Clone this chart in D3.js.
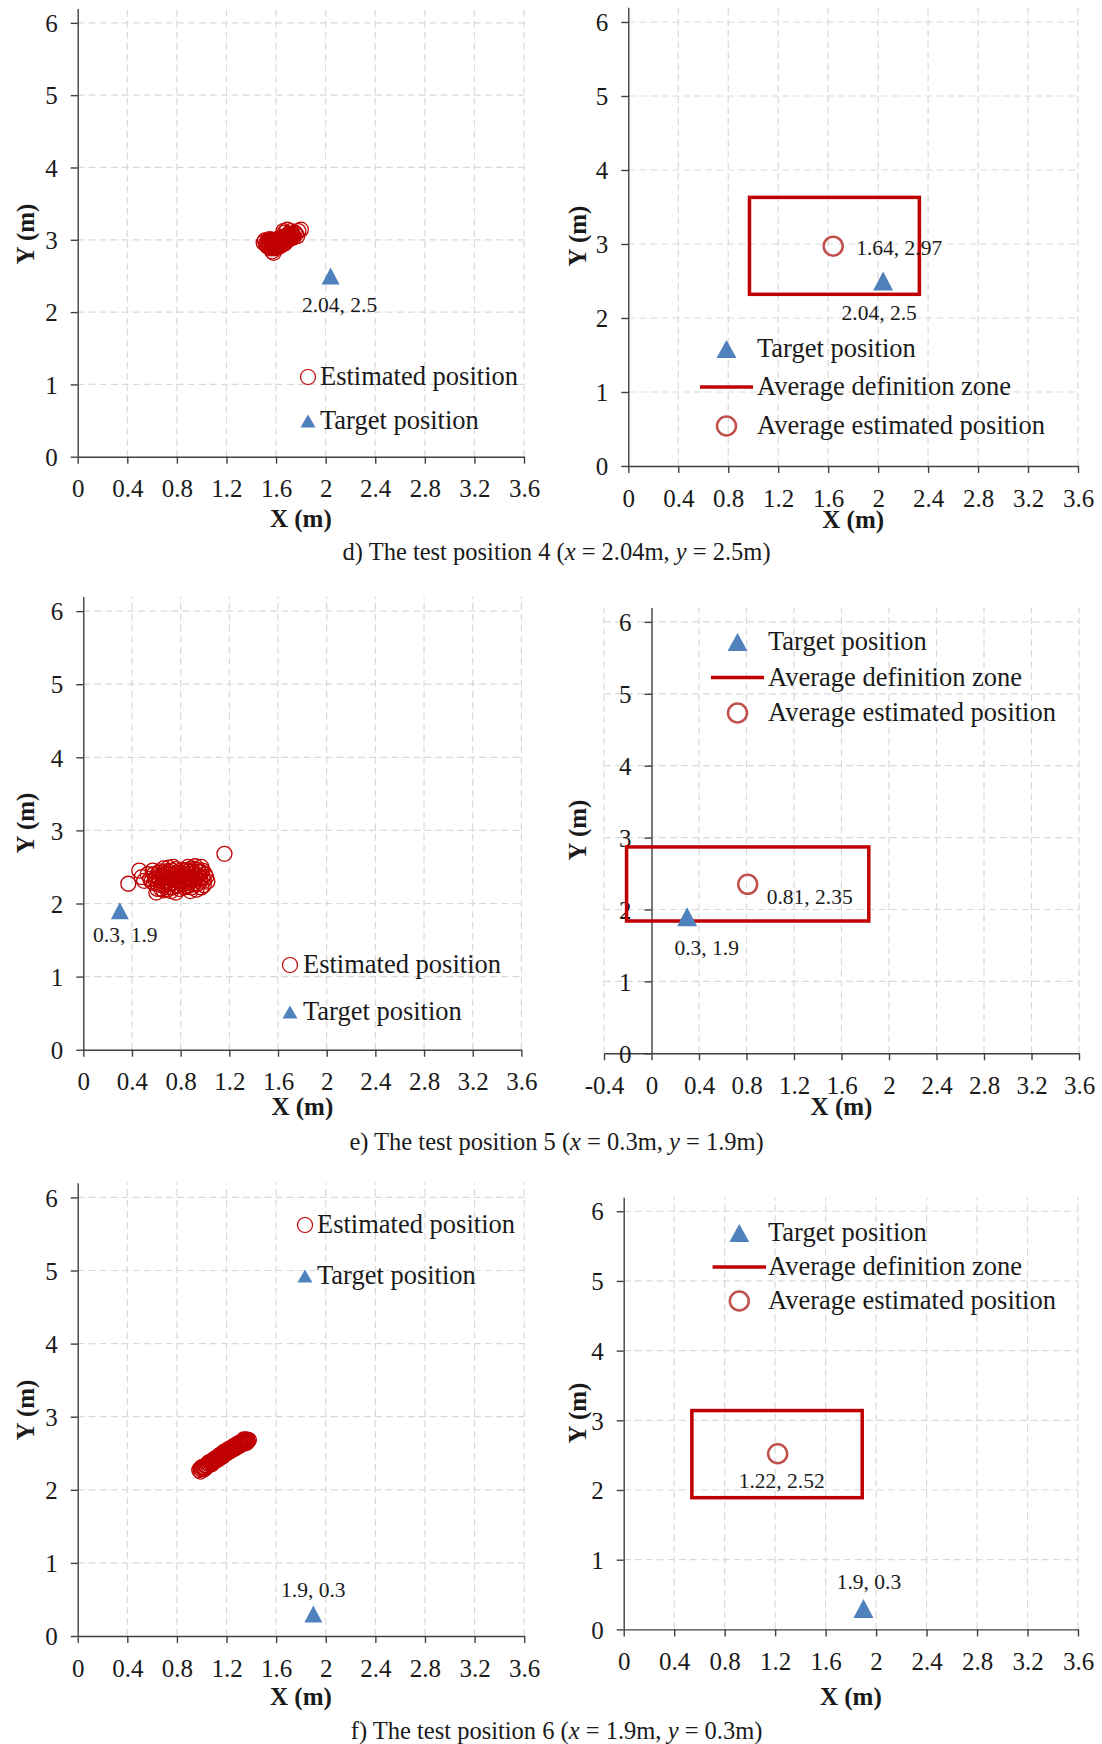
<!DOCTYPE html>
<html>
<head>
<meta charset="utf-8">
<script src="https://cdn.jsdelivr.net/npm/d3@7"></script>
<style>
  body { margin: 0; background: #fff; }
  svg text { font-family: "Liberation Serif", "Times New Roman", serif; fill: #1a1a1a; }
</style>
</head>
<body>
<svg id="chart" width="1102" height="1744"></svg>
<script>
// tick values
const xTicks = [0, 0.4, 0.8, 1.2, 1.6, 2, 2.4, 2.8, 3.2, 3.6];
const xTicksNeg = [-0.4, 0, 0.4, 0.8, 1.2, 1.6, 2, 2.4, 2.8, 3.2, 3.6];
const yTicks = [0, 1, 2, 3, 4, 5, 6];
const yMax = 6.2;

// estimated positions [x, y]
const estD = [
  [1.50, 2.96], [1.52, 2.93], [1.53, 2.98], [1.54, 2.90], [1.55, 2.95], [1.56, 2.88], [1.56, 3.00],
  [1.57, 2.84], [1.57, 2.94], [1.58, 2.91], [1.58, 2.97], [1.59, 2.88], [1.60, 2.93], [1.60, 3.00],
  [1.61, 2.96], [1.61, 2.90], [1.62, 2.98], [1.62, 2.93], [1.63, 3.02], [1.63, 2.95], [1.64, 2.92],
  [1.64, 2.99], [1.65, 3.03], [1.65, 2.96], [1.66, 3.00], [1.67, 3.10], [1.67, 2.97], [1.68, 3.02],
  [1.69, 3.14], [1.69, 2.99], [1.70, 3.05], [1.71, 3.02], [1.72, 3.08], [1.73, 3.04], [1.74, 3.06],
  [1.75, 3.10], [1.77, 3.05], [1.80, 3.14], [1.58, 2.82], [1.55, 3.01],
  [1.51, 2.99], [1.52, 2.95], [1.53, 2.91], [1.54, 2.97], [1.55, 2.92], [1.56, 2.96], [1.57, 2.99],
  [1.57, 2.89], [1.58, 2.94], [1.59, 2.96], [1.59, 2.91], [1.60, 2.89], [1.60, 2.97], [1.61, 2.93],
  [1.61, 3.01], [1.62, 2.95], [1.62, 2.90], [1.63, 2.98], [1.63, 2.92], [1.64, 2.96], [1.64, 3.02],
  [1.65, 2.94], [1.65, 3.00], [1.66, 2.97], [1.66, 3.04], [1.67, 3.01], [1.67, 2.95], [1.68, 3.05],
  [1.68, 2.99], [1.69, 3.03], [1.70, 3.00], [1.70, 3.08], [1.71, 3.05], [1.72, 3.02], [1.73, 3.07],
  [1.74, 3.03], [1.76, 3.08], [1.78, 3.12], [1.66, 3.12], [1.72, 3.12]
];
const estE = [
  [0.37, 2.27], [0.46, 2.45], [0.48, 2.36], [0.50, 2.31], [0.53, 2.40], [0.55, 2.34], [0.57, 2.45],
  [0.58, 2.28], [0.60, 2.37], [0.61, 2.20], [0.62, 2.42], [0.63, 2.31], [0.64, 2.25], [0.65, 2.38],
  [0.66, 2.18], [0.67, 2.44], [0.68, 2.30], [0.69, 2.35], [0.70, 2.22], [0.71, 2.40], [0.72, 2.28],
  [0.72, 2.17], [0.73, 2.45], [0.74, 2.33], [0.75, 2.38], [0.76, 2.25], [0.77, 2.42], [0.78, 2.30],
  [0.79, 2.20], [0.80, 2.36], [0.81, 2.46], [0.82, 2.27], [0.83, 2.40], [0.84, 2.33], [0.85, 2.23],
  [0.86, 2.44], [0.87, 2.37], [0.88, 2.30], [0.89, 2.48], [0.90, 2.26], [0.91, 2.41], [0.92, 2.34],
  [0.93, 2.19], [0.94, 2.46], [0.95, 2.38], [0.96, 2.30], [0.97, 2.43], [0.98, 2.35], [0.99, 2.25],
  [1.00, 2.40], [0.66, 2.48], [0.74, 2.50], [0.86, 2.50], [0.92, 2.51], [0.60, 2.15], [0.76, 2.15],
  [0.88, 2.17], [1.16, 2.68],
  [0.56, 2.30], [0.58, 2.40], [0.59, 2.33], [0.61, 2.27], [0.62, 2.35], [0.63, 2.44], [0.64, 2.20],
  [0.65, 2.30], [0.66, 2.36], [0.67, 2.25], [0.68, 2.41], [0.69, 2.19], [0.70, 2.31], [0.70, 2.44],
  [0.71, 2.27], [0.72, 2.36], [0.73, 2.22], [0.74, 2.40], [0.75, 2.29], [0.76, 2.47], [0.77, 2.34],
  [0.78, 2.24], [0.78, 2.42], [0.79, 2.32], [0.80, 2.28], [0.81, 2.38], [0.82, 2.44], [0.83, 2.22],
  [0.84, 2.36], [0.85, 2.46], [0.85, 2.30], [0.86, 2.25], [0.87, 2.41], [0.88, 2.35], [0.89, 2.22],
  [0.90, 2.44], [0.90, 2.32], [0.91, 2.28], [0.92, 2.47], [0.93, 2.37], [0.94, 2.27], [0.95, 2.43],
  [0.96, 2.35], [0.97, 2.22], [0.98, 2.45], [0.99, 2.31], [1.01, 2.36], [1.02, 2.30], [0.97, 2.50],
  [0.70, 2.49]
];
const estF = [
  [0.98, 2.27], [0.99, 2.29], [1.00, 2.28], [1.01, 2.31], [1.02, 2.30], [1.03, 2.33], [1.04, 2.32],
  [1.05, 2.36], [1.06, 2.35], [1.07, 2.38], [1.08, 2.37], [1.09, 2.40], [1.10, 2.39], [1.11, 2.43],
  [1.12, 2.42], [1.13, 2.45], [1.14, 2.44], [1.15, 2.47], [1.16, 2.45], [1.17, 2.49], [1.18, 2.48],
  [1.19, 2.52], [1.20, 2.50], [1.21, 2.54], [1.22, 2.52], [1.23, 2.56], [1.24, 2.55], [1.25, 2.58],
  [1.26, 2.56], [1.27, 2.60], [1.28, 2.59], [1.29, 2.62], [1.30, 2.60], [1.31, 2.64], [1.32, 2.62],
  [1.33, 2.66], [1.34, 2.64], [1.35, 2.68], [1.36, 2.66], [1.37, 2.68],
  [0.99, 2.25], [1.00, 2.31], [1.02, 2.28], [1.03, 2.30], [1.05, 2.33], [1.06, 2.38], [1.08, 2.35],
  [1.09, 2.37], [1.10, 2.42], [1.11, 2.40], [1.13, 2.41], [1.14, 2.47], [1.15, 2.44], [1.16, 2.49],
  [1.17, 2.46], [1.18, 2.52], [1.19, 2.49], [1.20, 2.54], [1.21, 2.51], [1.22, 2.56], [1.23, 2.53],
  [1.24, 2.58], [1.25, 2.55], [1.26, 2.60], [1.27, 2.57], [1.28, 2.62], [1.29, 2.59], [1.30, 2.64],
  [1.31, 2.61], [1.32, 2.65], [1.33, 2.63], [1.34, 2.67], [1.35, 2.65], [1.36, 2.69], [1.37, 2.66],
  [1.38, 2.68], [1.36, 2.64], [1.34, 2.69]
];

// target, average estimate and average definition zone [xMin, xMax, yMin, yMax]
const targetD = [2.04, 2.5], avgD = [1.64, 2.97], zoneD = [0.97, 2.33, 2.32, 3.63];
const targetE = [0.3, 1.9], avgE = [0.81, 2.35], zoneE = [-0.21, 1.83, 1.84, 2.87];
const targetF = [1.9, 0.3], avgF = [1.22, 2.52], zoneF = [0.54, 1.89, 1.89, 3.14];

const estLegend = ['Estimated position', 'Target position'];
const avgLegend = ['Target position', 'Average definition zone', 'Average estimated position'];

const RED = '#c00000', AVG = '#c0504d', BLUE = '#4f81bd', GRID = '#d9d9d9', AXIS = '#404040';

const svg = d3.select('#chart');
const fmt = d => String(d);
const tri = (w, h) => `M${-w / 2},${h / 2}L${w / 2},${h / 2}L0,${-h / 2}Z`;

const panels = [
  { est: estD, target: targetD, ticks: xTicks, px: [77.7, 524], py: [456.7, 8.4], xTitleY: 518, yTitle: [25, 234],
    tLabel: [9, 29], legend: { mx: 308, tx: 320, ys: [377, 421] } },
  { avg: avgD, zone: zoneD, target: targetD, ticks: xTicks, px: [628.3, 1078], py: [466, 7.2], xTitleY: 519, yTitle: [577, 236],
    aLabel: [23, 1, 'start'], tLabel: [-4, 31], legend: { mx: 726.5, lx: [700, 753], tx: 757, ys: [349, 387, 426] } },
  { est: estE, target: targetE, ticks: xTicks, px: [83.3, 521.4], py: [1049.7, 596.5], xTitleY: 1106, yTitle: [25, 823],
    tLabel: [5.5, 24], legend: { mx: 290, tx: 303, ys: [965, 1012] } },
  { avg: avgE, zone: zoneE, target: targetE, ticks: xTicksNeg, px: [604, 1079], py: [1053.3, 607.5], xTitleY: 1106, yTitle: [577, 830],
    aLabel: [19, 12, 'start'], tLabel: [19.5, 31], legend: { mx: 737.5, lx: [711, 764], tx: 768, ys: [642, 677.5, 713] } },
  { est: estF, target: targetF, ticks: xTicks, px: [77.7, 524.2], py: [1636, 1182.8], xTitleY: 1696, yTitle: [25, 1410],
    tLabel: [0, -25], legend: { mx: 305, tx: 317, ys: [1225, 1276] } },
  { avg: avgF, zone: zoneF, target: targetF, ticks: xTicks, px: [623.7, 1078], py: [1629.4, 1197.3], xTitleY: 1696, yTitle: [577, 1413],
    aLabel: [4, 27, 'middle'], tLabel: [5.5, -27], legend: { mx: 739.3, lx: [712.6, 766], tx: 768, ys: [1233, 1267, 1301] } }
];

const captions = [
  { y: 551, parts: ['d) The test position 4 (', 'x', ' = 2.04m, ', 'y', ' = 2.5m)'] },
  { y: 1141, parts: ['e) The test position 5 (', 'x', ' = 0.3m, ', 'y', ' = 1.9m)'] },
  { y: 1730, parts: ['f) The test position 6 (', 'x', ' = 1.9m, ', 'y', ' = 0.3m)'] }
];

panels.forEach(p => {
  const x = d3.scaleLinear().domain([p.ticks[0], 3.6]).range(p.px);
  const y = d3.scaleLinear().domain([0, yMax]).range(p.py);
  const g = svg.append('g');

  // dashed grid
  g.selectAll('.vg').data(p.ticks.filter(v => v !== 0)).join('line')
    .attr('x1', d => x(d)).attr('x2', d => x(d)).attr('y1', y(0)).attr('y2', y(yMax))
    .attr('stroke', GRID).attr('stroke-width', 1.2).attr('stroke-dasharray', '7,4');
  g.selectAll('.hg').data(yTicks.filter(v => v > 0)).join('line')
    .attr('x1', x(p.ticks[0])).attr('x2', x(3.6)).attr('y1', d => y(d)).attr('y2', d => y(d))
    .attr('stroke', GRID).attr('stroke-width', 1.2).attr('stroke-dasharray', '7,4');

  // axes
  const xa = g.append('g').attr('transform', `translate(0,${y(0)})`)
    .call(d3.axisBottom(x).tickValues(p.ticks).tickFormat(fmt).tickSizeInner(7).tickSizeOuter(0));
  xa.selectAll('text').attr('y', 32).attr('dy', '0.35em').style('font-size', '25px');
  const ya = g.append('g').attr('transform', `translate(${x(0)},0)`)
    .call(d3.axisLeft(y).tickValues(yTicks).tickFormat(fmt).tickSizeInner(7).tickSizeOuter(0));
  ya.selectAll('text').attr('x', -20).attr('dy', '0.35em').style('font-size', '25px');
  g.selectAll('.domain, .tick line').attr('stroke', AXIS).attr('stroke-width', 1.4);
  g.selectAll('.tick text').attr('fill', '#1a1a1a').style('font-family', '"Liberation Serif", serif');

  g.append('text').attr('x', (p.px[0] + p.px[1]) / 2).attr('y', p.xTitleY).attr('dy', '0.35em')
    .attr('text-anchor', 'middle').style('font-size', '25px').style('font-weight', 'bold').text('X (m)');
  g.append('text').attr('transform', `translate(${p.yTitle[0]},${p.yTitle[1]}) rotate(-90)`).attr('dy', '0.35em')
    .attr('text-anchor', 'middle').style('font-size', '25px').style('font-weight', 'bold').text('Y (m)');

  const lg = p.legend;
  if (p.est) {
    g.selectAll('.est').data(p.est).join('circle')
      .attr('cx', d => x(d[0])).attr('cy', d => y(d[1])).attr('r', 7.5)
      .attr('fill', 'none').attr('stroke', RED).attr('stroke-width', 1.3);
    // legend
    g.append('circle').attr('cx', lg.mx).attr('cy', lg.ys[0]).attr('r', 7.5)
      .attr('fill', 'none').attr('stroke', RED).attr('stroke-width', 1.2);
    g.append('path').attr('d', tri(15, 13)).attr('transform', `translate(${lg.mx},${lg.ys[1]})`).attr('fill', BLUE);
    estLegend.forEach((t, i) => g.append('text').attr('x', lg.tx).attr('y', lg.ys[i]).attr('dy', '0.32em')
      .style('font-size', '26.5px').text(t));
  } else {
    const z = p.zone;
    g.append('rect').attr('x', x(z[0])).attr('y', y(z[3]))
      .attr('width', x(z[1]) - x(z[0])).attr('height', y(z[2]) - y(z[3]))
      .attr('fill', 'none').attr('stroke', RED).attr('stroke-width', 3.5);
    g.append('circle').attr('cx', x(p.avg[0])).attr('cy', y(p.avg[1])).attr('r', 9.5)
      .attr('fill', 'none').attr('stroke', AVG).attr('stroke-width', 2.5);
    g.append('text').attr('x', x(p.avg[0]) + p.aLabel[0]).attr('y', y(p.avg[1]) + p.aLabel[1]).attr('dy', '0.35em')
      .attr('text-anchor', p.aLabel[2]).style('font-size', '21.5px').text(p.avg.join(', '));
    // legend
    g.append('path').attr('d', tri(20, 18)).attr('transform', `translate(${lg.mx},${lg.ys[0]})`).attr('fill', BLUE);
    g.append('line').attr('x1', lg.lx[0]).attr('x2', lg.lx[1]).attr('y1', lg.ys[1]).attr('y2', lg.ys[1])
      .attr('stroke', RED).attr('stroke-width', 3.5);
    g.append('circle').attr('cx', lg.mx).attr('cy', lg.ys[2]).attr('r', 9.5)
      .attr('fill', 'none').attr('stroke', AVG).attr('stroke-width', 2.5);
    avgLegend.forEach((t, i) => g.append('text').attr('x', lg.tx).attr('y', lg.ys[i]).attr('dy', '0.32em')
      .style('font-size', '26.5px').text(t));
  }

  // target marker and its label
  const tw = p.est ? 18 : 20;
  g.append('path').attr('d', tri(tw, tw - 1)).attr('transform', `translate(${x(p.target[0])},${y(p.target[1])})`).attr('fill', BLUE);
  g.append('text').attr('x', x(p.target[0]) + p.tLabel[0]).attr('y', y(p.target[1]) + p.tLabel[1]).attr('dy', '0.35em')
    .attr('text-anchor', 'middle').style('font-size', '21.5px').text(p.target.join(', '));
});

captions.forEach(c => {
  const t = svg.append('text').attr('x', 556.6).attr('y', c.y).attr('dy', '0.35em')
    .attr('text-anchor', 'middle').style('font-size', '24.5px');
  c.parts.forEach((s, i) => t.append('tspan').style('font-style', i % 2 ? 'italic' : 'normal').text(s));
});
</script>
</body>
</html>
